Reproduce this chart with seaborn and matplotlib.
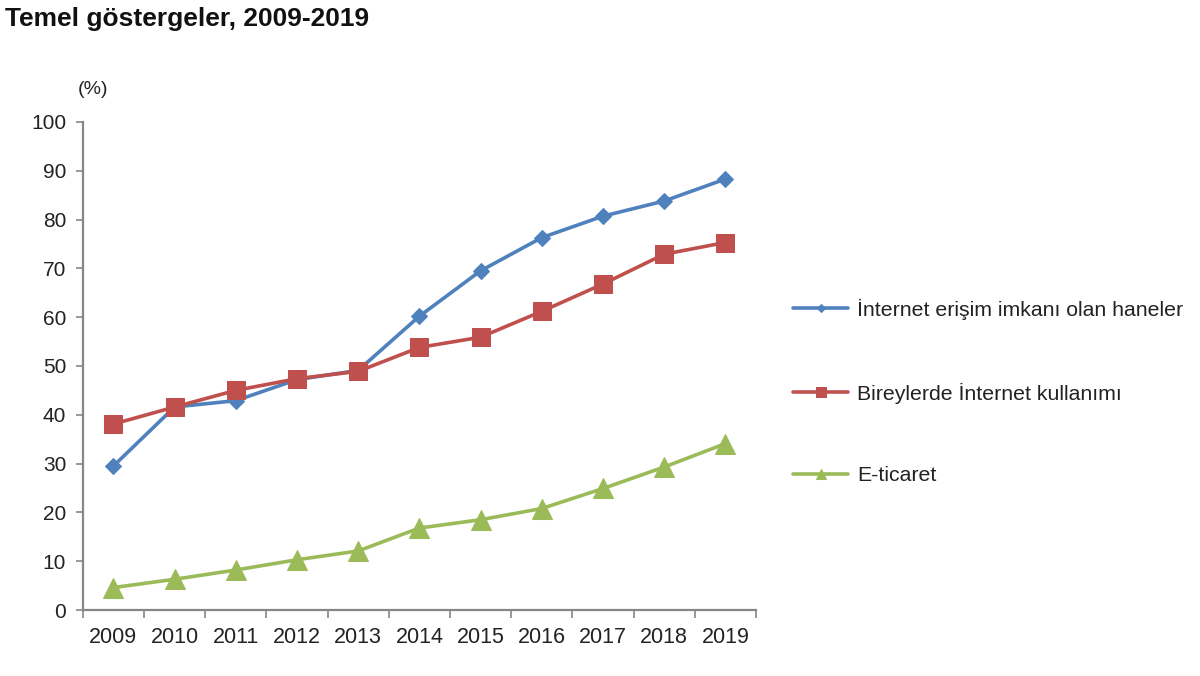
import matplotlib
matplotlib.use("Agg")
import matplotlib.pyplot as plt
import seaborn as sns
import pandas as pd
from matplotlib.ticker import FixedLocator, NullFormatter

years = [2009, 2010, 2011, 2012, 2013, 2014, 2015, 2016, 2017, 2018, 2019]
hane = [29.5, 41.6, 42.9, 47.2, 49.1, 60.2, 69.5, 76.3, 80.7, 83.8, 88.3]
birey = [38.1, 41.6, 45.0, 47.4, 48.9, 53.8, 55.9, 61.2, 66.8, 72.9, 75.3]
eticaret = [4.6, 6.3, 8.2, 10.3, 12.1, 16.8, 18.5, 20.8, 24.9, 29.3, 34.1]
series_names = ["İnternet erişim imkanı olan haneler", "Bireylerde İnternet kullanımı", "E-ticaret"]
yticks = list(range(0, 101, 10))

sns.set_theme(style="white")
plt.rcParams["font.family"] = ["Liberation Sans", "DejaVu Sans"]

df = pd.DataFrame({
    "Yıl": years * 3,
    "Değer": hane + birey + eticaret,
    "Seri": [series_names[0]] * 11 + [series_names[1]] * 11 + [series_names[2]] * 11,
})

colors = {series_names[0]: "#4F81BD", series_names[1]: "#C0504D", series_names[2]: "#9BBB59"}
markers = {series_names[0]: "D", series_names[1]: "s", series_names[2]: "^"}
msizes = {series_names[0]: 8, series_names[1]: 13, series_names[2]: 14}

fig = plt.figure(figsize=(12, 6.76), dpi=100)
ax = fig.add_axes([0.069, 0.0976, 0.561, 0.722])

for name in series_names:
    sub = df[df["Seri"] == name]
    sns.lineplot(data=sub, x="Yıl", y="Değer", ax=ax, color=colors[name],
                 marker=markers[name], markersize=msizes[name], linewidth=2.6,
                 markeredgecolor=colors[name], label=name)

ax.set_xlim(years[0] - 0.5, years[-1] + 0.5)
ax.set_ylim(0, 100)
ax.set_yticks(yticks)
ax.set_xticks(years)
ax.set_xticklabels([str(y) for y in years])
ax.xaxis.set_minor_locator(FixedLocator([y - 0.5 for y in years] + [years[-1] + 0.5]))
ax.xaxis.set_minor_formatter(NullFormatter())
ax.tick_params(axis="x", which="major", length=0, labelsize=15.5, pad=12, colors="#222222")
ax.tick_params(axis="x", which="minor", length=6, width=1.2, color="#868686", bottom=True)
ax.tick_params(axis="y", which="major", length=5, width=1.2, color="#868686", left=True,
               labelsize=15, pad=7, labelcolor="#222222")
ax.set_xlabel("")
ax.set_ylabel("")
for s in ["top", "right"]:
    ax.spines[s].set_visible(False)
for s in ["left", "bottom"]:
    ax.spines[s].set_color("#868686")
    ax.spines[s].set_linewidth(1.6)

ax.get_legend().remove()
handles, labels = ax.get_legend_handles_labels()
leg = fig.legend(handles, labels, loc="center left", bbox_to_anchor=(0.645, 0.42),
                 frameon=False, fontsize=15.3, labelspacing=2.95, handlelength=2.6,
                 handletextpad=0.4, markerscale=0.55)
for t in leg.get_texts():
    t.set_color("#222222")

fig.text(0.004, 0.972, "Temel göstergeler, 2009-2019", fontsize=19, fontweight="bold",
         color="#111111", va="center", ha="left")
fig.text(0.065, 0.868, "(%)", fontsize=14, color="#222222", va="center", ha="left")

fig.savefig("out.png", dpi=100, facecolor="white")
